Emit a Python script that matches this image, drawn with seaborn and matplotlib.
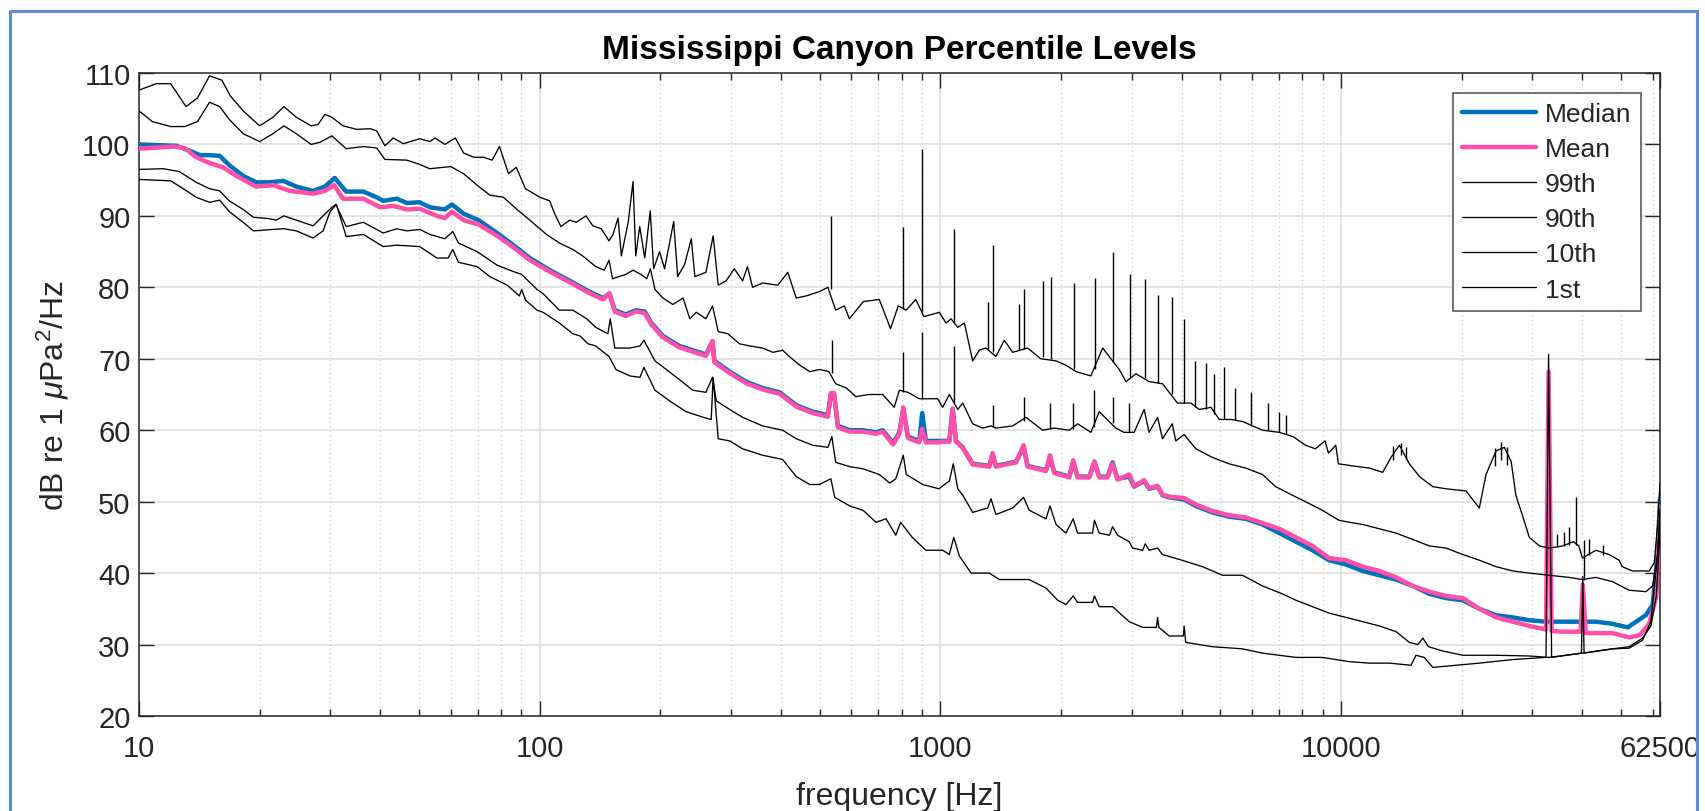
import matplotlib
matplotlib.use("Agg")
import matplotlib.pyplot as plt
from matplotlib.lines import Line2D
from matplotlib.ticker import FixedLocator, FixedFormatter, NullFormatter
import seaborn as sns

# ---- Percentile spectra (frequency in Hz, level in dB re 1 uPa^2/Hz) ----
median_f = [10, 12.4, 13.4, 14.2, 15.0, 15.9, 16.8, 18.2, 19.6, 21.2, 22.9, 24.7, 27.2, 29.1, 30.8,
            32.9, 36.3, 39.2, 40.7, 44.0, 46.6, 50.2, 53.2, 58.0, 60.4, 64.6, 70.4, 78.3, 86.0, 94.5,
            106, 119, 133, 144, 149.3, 154, 164, 174, 183, 190, 203, 223, 241, 260, 270, 273, 298,
            327, 360, 397, 437, 480, 524, 533, 543, 555, 594, 641, 691, 718, 762, 790, 808, 830, 886,
            901, 920, 992, 1013, 1053, 1073, 1094, 1137, 1204, 1325, 1350, 1376, 1545, 1613, 1651,
            1835, 1877, 1924, 2097, 2145, 2200, 2354, 2424, 2491, 2613, 2690, 2768, 2960, 3045, 3225,
            3319, 3484, 3584, 3725, 4058, 4340, 4771, 5250, 5782, 6366, 7015, 7714, 8486, 9334,
            10290, 11326, 12465, 13718, 15096, 16614, 18283, 20120, 22140, 24370, 26810, 29510,
            32470, 35710, 40030, 43250, 47580, 51930, 54490, 57620, 59920, 61650, 62500]
median_db = [100.0, 99.8, 99.1, 98.5, 98.5, 98.4, 97.1, 95.6, 94.7, 94.7, 94.9, 94.1, 93.5, 94.1, 95.3,
             93.4, 93.4, 92.6, 92.1, 92.4, 91.8, 91.9, 91.2, 90.9, 91.6, 90.3, 89.4, 87.6, 85.9, 84.1,
             82.4, 80.9, 79.4, 78.5, 79.1, 76.8, 76.2, 76.8, 76.6, 75.0, 73.2, 71.8, 71.2, 70.6, 72.4,
             69.7, 68.2, 66.8, 65.9, 65.3, 63.5, 62.6, 62.1, 65.0, 65.0, 60.6, 60.0, 60.0, 59.7, 60.0,
             58.2, 59.7, 62.9, 59.1, 58.5, 62.4, 58.5, 58.5, 58.5, 58.5, 63.0, 58.5, 57.6, 55.3, 55.0,
             56.6, 55.0, 55.6, 57.6, 55.0, 54.4, 56.2, 54.1, 53.5, 55.5, 53.5, 53.5, 55.6, 53.5, 53.5,
             55.5, 53.2, 53.5, 52.1, 52.9, 51.8, 52.1, 50.9, 50.6, 50.3, 49.4, 48.5, 47.9, 47.6, 46.8,
             45.6, 44.4, 43.2, 41.8, 41.2, 40.3, 39.7, 39.1, 38.2, 37.1, 36.5, 36.2, 35.0, 34.1, 33.8,
             33.4, 33.2, 33.2, 33.2, 33.2, 32.9, 32.4, 33.2, 34.1, 35.6, 42.6, 50.3]

mean_f = [10, 12.2, 13.0, 13.9, 15.0, 16.2, 17.5, 19.6, 21.6, 23.8, 27.2, 29.1, 30.7, 32.3, 36.3,
          40.0, 43.1, 46.6, 50.2, 55.4, 58.0, 60.4, 64.6, 70.4, 78.3, 86.0, 94.5, 106, 119, 133,
          144, 149.3, 154, 164, 174, 183, 190, 203, 223, 241, 260, 270, 273, 298, 327, 360, 397,
          437, 480, 524, 533, 543, 555, 594, 641, 691, 718, 762, 790, 808, 830, 886, 901, 920, 992,
          1013, 1053, 1073, 1094, 1137, 1204, 1325, 1350, 1376, 1545, 1613, 1651, 1835, 1877, 1924,
          2097, 2145, 2200, 2354, 2424, 2491, 2613, 2690, 2768, 2960, 3045, 3225, 3319, 3484, 3584,
          3725, 4058, 4340, 4771, 5250, 5782, 6366, 7015, 7714, 8486, 9334, 10290, 11326, 12465,
          13718, 15096, 16614, 18283, 20120, 22140, 24370, 26810, 29510, 32470, 32950, 33530,
          35710, 39600, 40100, 40800, 47580, 52360, 55590, 58740, 61200, 62500]
mean_db = [99.4, 99.7, 99.5, 98.2, 97.4, 96.8, 95.6, 94.1, 94.3, 93.5, 93.1, 93.5, 94.3, 92.4, 92.4,
           91.2, 91.4, 90.9, 91.0, 90.0, 89.7, 90.6, 89.4, 88.8, 87.2, 85.6, 83.8, 82.2, 80.7, 79.2,
           78.3, 79.2, 76.6, 76.0, 76.6, 76.4, 74.8, 73.0, 71.6, 71.0, 70.4, 72.5, 69.5, 68.0, 66.6,
           65.7, 65.1, 63.3, 62.4, 61.9, 65.2, 65.2, 60.4, 59.8, 59.8, 59.5, 59.8, 58.0, 59.5, 63.2,
           58.9, 58.3, 60.2, 58.3, 58.3, 58.4, 58.4, 63.0, 58.4, 57.5, 55.2, 54.9, 56.8, 54.9, 55.5,
           57.9, 54.9, 54.3, 56.5, 54.0, 53.4, 55.8, 53.4, 53.4, 55.6, 53.4, 53.4, 55.3, 53.1, 53.8,
           52.2, 53.0, 51.9, 52.2, 51.0, 50.7, 50.5, 49.6, 48.7, 48.1, 47.8, 47.0, 46.2, 45.0, 43.8,
           42.1, 41.8, 40.9, 40.3, 39.4, 38.2, 37.4, 36.8, 36.5, 35.0, 33.8, 33.2, 32.6, 32.1, 68.2,
           31.9, 31.8, 31.8, 38.4, 31.6, 31.6, 31.0, 31.3, 32.9, 36.8, 49.4]

p99_f = [10, 11.05, 12.0, 13.1, 14.0, 15.0, 16.1, 16.9, 18.2, 20.0, 21.6, 23.0, 24.7, 26.9, 28.0,
         29.1, 30.3, 32.3, 35.0, 37.8, 39.2, 41.1, 43.1, 45.7, 50.2, 53.2, 54.8, 58.0, 61.6, 64.6,
         68.5, 72.5, 76.1, 79.4, 83.6, 87.4, 92.2, 100.2, 105.9, 109, 113, 118.8, 123.4, 130.5,
         135.8, 142.5, 148.9, 152.4, 156.9, 159.9, 166.3, 171.0, 173.7, 177.7, 182.9, 188.8, 192.5,
         199.2, 205, 216, 221, 230, 239, 244, 260, 271, 279, 292, 306, 321, 330, 340, 360, 393,
         416, 437, 463, 499, 524, 548, 576, 593, 642, 704, 751, 785, 822, 868, 910, 994, 1033, 1063,
         1105, 1148, 1204, 1251, 1300, 1376, 1444, 1515, 1651, 1780, 1944, 2058, 2180, 2375, 2541,
         2795, 2906, 3077, 3319, 3584, 3906, 4219, 4425, 4735, 4969, 5319, 5691, 6366, 7015, 7592,
         8149, 8624, 9122, 9300, 9698, 9850, 10692, 11768, 12703, 13324, 13980, 14804, 15696, 16940,
         18269, 20502, 22128, 23000, 24360, 25566, 26580, 27300, 28380, 29500, 31270, 33100, 35710,
         38000, 39200, 40030, 43250, 46630, 49400, 50300, 53330, 58740, 60500, 61650, 62500]
p99_db = [107.6, 108.5, 108.5, 105.3, 106.5, 109.6, 109.0, 106.8, 104.7, 102.6, 103.8, 105.3, 103.8,
          102.6, 102.8, 104.2, 103.8, 102.6, 102.1, 102.2, 101.9, 99.8, 100.9, 100.1, 100.8, 100.4,
          100.9, 100.0, 100.9, 98.8, 98.2, 98.2, 97.8, 99.7, 95.9, 96.8, 93.8, 92.6, 92.1, 90.3,
          88.5, 89.4, 89.1, 90.0, 88.6, 88.2, 86.5, 87.4, 89.7, 84.4, 89.1, 94.8, 84.4, 88.5, 84.1,
          90.7, 82.6, 85.0, 82.6, 89.2, 81.5, 83.2, 86.8, 81.5, 82.1, 87.2, 80.3, 80.9, 82.6, 80.9,
          82.9, 80.0, 80.6, 80.3, 82.1, 78.5, 78.8, 79.4, 80.0, 76.8, 77.4, 75.6, 78.0, 78.3, 74.2,
          77.4, 76.8, 78.3, 75.9, 76.5, 75.0, 75.6, 74.4, 75.0, 69.7, 71.2, 71.5, 70.3, 72.6, 70.9,
          71.5, 70.0, 69.7, 69.1, 68.2, 67.6, 71.5, 68.5, 66.8, 67.9, 66.8, 66.5, 63.8, 63.8, 62.9,
          63.2, 61.5, 61.5, 61.2, 60.0, 59.7, 59.1, 57.9, 57.4, 58.5, 56.8, 57.9, 55.3, 55.0, 54.7,
          54.1, 56.2, 57.9, 55.3, 53.5, 52.1, 51.8, 51.5, 49.1, 53.8, 57.1, 57.6, 55.6, 50.9, 48.0,
          45.0, 43.8, 43.5, 43.8, 44.4, 43.8, 42.1, 43.2, 42.6, 41.8, 40.9, 40.3, 40.3, 41.5, 46.8,
          52.6]
# narrow tonal peaks on the 99th curve: frequency, foot level, peak level
p99_spike_f = [533, 808, 901, 1084, 1312, 1350, 1575, 1620, 1799, 1888, 2159, 2431, 2703, 2979,
               3246, 3502, 3781, 4058, 4319, 4599, 4827, 5115, 5422, 5975, 6563, 7015, 7300,
               13500, 14100, 14500, 24200, 25000, 25900, 34500, 36000, 37000, 38590, 41500,
               45000]
p99_spike_base = [79.8, 77.0, 76.5, 75.2, 71.4, 71.0, 71.2, 71.3, 70.2, 69.9, 68.6, 68.5, 69.5,
                  67.3, 67.3, 66.6, 65.0, 63.8, 63.3, 63.0, 62.3, 61.5, 61.4, 60.6, 60.0, 59.7,
                  59.5, 55.8, 56.5, 56.0, 55.0, 55.8, 55.2, 43.6, 43.8, 44.0, 43.9, 42.5, 42.6]
p99_spike_peak = [90.0, 88.5, 99.4, 88.2, 78.0, 85.9, 77.7, 79.7, 80.9, 81.5, 80.6, 81.3, 84.9,
                  81.8, 81.2, 78.9, 78.6, 75.6, 69.7, 69.4, 67.9, 68.8, 65.9, 65.3, 63.8, 62.6,
                  62.1, 57.8, 58.2, 57.6, 57.5, 58.3, 57.6, 45.5, 45.8, 46.5, 50.6, 44.8, 44.0]

p90_f = [10, 10.8, 12.0, 13.0, 14.0, 15.0, 15.9, 16.8, 18.2, 20.0, 21.6, 23.0, 24.7, 26.9, 28.3,
         30.3, 32.9, 36.3, 39.2, 41.1, 46.6, 50.2, 53.2, 60.0, 64.6, 69.8, 75.1, 81.2, 87.8, 94.5,
         104, 112, 121, 128, 138, 145, 149, 152, 164, 171, 179, 185, 189, 194, 203, 215, 228, 237,
         246, 260, 270, 279, 295, 315, 334, 360, 382, 404, 420, 446, 472, 499, 527, 548, 583,
         615, 664, 718, 767, 790, 830, 886, 910, 985, 1013, 1053, 1105, 1137, 1204,
         1275, 1338, 1376, 1515, 1636, 1799, 1924, 2097, 2200, 2375, 2491, 2740, 2873, 3045, 3225,
         3319, 3484, 3584, 3791, 3868, 4058, 4340, 4771, 5250, 5782, 6366, 6866, 7560, 8149, 8972,
         9870, 10290, 11326, 12465, 13718, 15096, 16614, 18283, 20120, 22140, 24370, 26810, 29510,
         33060, 37040, 40030, 43250, 47580, 52360, 57620, 59920, 61650, 62500]
p90_db = [104.7, 103.2, 102.5, 102.5, 103.2, 105.9, 105.3, 103.5, 101.5, 100.4, 101.5, 102.6, 101.5,
          100.0, 100.3, 101.2, 99.4, 99.7, 99.5, 97.9, 97.8, 97.2, 96.6, 96.9, 95.9, 94.3, 92.9, 92.6,
          90.9, 89.4, 87.4, 86.2, 85.3, 84.4, 82.9, 82.4, 83.8, 81.2, 81.8, 82.4, 81.8, 81.2, 82.6,
          79.7, 78.5, 77.6, 78.5, 75.6, 76.5, 75.6, 77.4, 73.8, 73.5, 72.1, 71.8, 71.5, 70.9, 71.2,
          70.3, 69.1, 68.2, 68.5, 68.2, 66.5, 65.9, 64.7, 65.0, 65.0, 63.2, 65.6, 65.3, 64.4, 64.4,
          64.4, 63.2, 65.0, 62.9, 63.8, 60.9, 60.3, 60.6, 60.3, 60.6, 61.8, 60.0, 60.3, 60.0, 60.9,
          59.7, 62.6, 60.3, 59.7, 59.7, 62.9, 59.7, 61.8, 58.8, 60.9, 58.5, 59.4, 57.4, 56.2, 55.3,
          54.7, 53.8, 52.1, 50.9, 50.0, 48.8, 47.4, 47.2, 46.8, 46.2, 45.6, 44.7, 43.8, 43.5, 42.6,
          41.8, 40.9, 40.3, 40.0, 39.7, 39.4, 39.1, 39.4, 38.8, 37.6, 37.4, 38.2, 42.6, 48.5]
p90_spike_f = [537, 809, 901, 1084, 1350, 1613, 1877, 2145, 2424, 2690, 2960, 40300]
p90_spike_base = [68.0, 65.4, 64.4, 64.0, 60.5, 61.3, 60.2, 60.2, 60.5, 61.0, 59.7, 39.1]
p90_spike_peak = [72.6, 70.9, 73.8, 71.8, 63.5, 64.7, 63.8, 63.8, 65.6, 64.7, 63.8, 44.6]

p10_f = [10, 11.5, 12.6, 13.9, 15.0, 15.9, 16.8, 18.2, 19.3, 21.2, 22.0, 23.0, 24.7, 27.2, 28.8,
         30.3, 31.0, 32.9, 36.3, 40.7, 44.0, 46.6, 50.2, 53.2, 58.0, 60.7, 62.7, 69.8, 78.3, 86.0,
         90.2, 98.5, 102, 112, 121, 131, 138, 148, 150, 154, 168, 178, 182, 194, 207, 223, 241, 260,
         270, 276, 298, 321, 360, 404, 437, 480, 524, 536, 548, 594, 641, 704, 748, 774, 808, 822,
         904, 992, 1053, 1077, 1105, 1137, 1204, 1312, 1338, 1376, 1515, 1613, 1666, 1835, 1877,
         1944, 2058, 2145, 2200, 2397, 2424, 2491, 2643, 2690, 2768, 2960, 3017, 3199, 3246, 3319,
         3484, 3584, 4009, 4509, 5060, 5670, 6366, 7132, 7714, 8486, 9334, 10290, 11326, 12465,
         13718, 14804, 15560, 16000, 16520, 17940, 20120, 24370, 29510, 32950, 40030, 47580, 52360,
         56540, 59310, 61650, 62500]
p10_db = [96.5, 96.6, 96.2, 94.7, 93.8, 93.5, 92.1, 90.9, 89.8, 89.6, 89.4, 90.0, 89.4, 88.6, 90.0,
          91.2, 91.6, 88.5, 89.1, 87.6, 88.2, 87.9, 88.1, 87.4, 86.8, 87.8, 86.2, 85.0, 83.1, 82.2,
          81.8, 79.7, 79.1, 76.8, 76.8, 75.6, 74.4, 73.5, 75.6, 71.5, 71.5, 71.8, 72.6, 69.7, 68.5,
          67.1, 65.6, 65.3, 67.4, 64.1, 62.9, 61.8, 60.6, 60.0, 58.8, 57.9, 57.6, 59.1, 55.5, 54.9,
          54.6, 53.8, 52.6, 53.2, 56.5, 53.8, 52.4, 51.8, 52.9, 55.3, 51.8, 50.9, 48.5, 49.1, 50.4,
          48.2, 49.1, 50.6, 48.8, 47.6, 49.4, 46.8, 45.6, 47.6, 45.6, 45.6, 47.4, 45.6, 45.3, 46.5,
          45.3, 44.4, 43.5, 43.2, 44.1, 43.2, 43.5, 42.6, 41.8, 40.9, 39.7, 39.7, 38.2, 37.1, 36.2,
          35.3, 34.4, 33.8, 33.2, 32.6, 31.8, 30.3, 30.0, 30.9, 29.7, 29.1, 28.5, 28.5, 28.4, 28.2,
          28.8, 29.4, 29.5, 30.6, 33.2, 42.6, 49.0]

p1_f = [10, 12.0, 12.9, 13.9, 15.0, 15.9, 16.8, 18.2, 19.3, 21.6, 23.0, 24.7, 27.2, 28.8, 30.0,
        31.1, 32.9, 36.3, 40.7, 44.0, 50.2, 55.4, 59.1, 60.7, 62.7, 69.8, 75.1, 83.0, 89.0, 90.2,
        92.2, 98.5, 102, 112, 121, 126, 132, 138, 149, 151, 155, 168, 178, 182, 194, 211, 232, 256,
        268, 271, 279, 298, 321, 360, 404, 437, 472, 499, 524, 533, 545, 594, 641, 691, 732, 774,
        796, 851, 920, 1013, 1053, 1080, 1115, 1193, 1325, 1403, 1545, 1666, 1835, 1962, 2058,
        2145, 2200, 2397, 2424, 2491, 2690, 2960, 3199, 3460, 3484, 3510, 3725, 4040, 4058, 4095,
        4771, 5670, 6366, 7714, 8972, 10490, 11770, 13200, 14950, 15380, 16130, 16940, 19360,
        22140, 26810, 32470, 32950, 33530, 39800, 40100, 40400, 47580, 52360, 56540, 59310, 61200,
        62500]
p1_db = [95.1, 94.9, 93.8, 92.6, 91.9, 92.2, 90.6, 89.1, 87.9, 88.1, 88.2, 87.9, 86.9, 87.9, 90.6,
         91.6, 87.1, 87.4, 85.7, 85.9, 85.7, 84.1, 84.1, 85.3, 83.5, 82.9, 81.5, 80.3, 78.8, 79.7,
         78.2, 76.8, 76.5, 75.0, 73.5, 73.2, 72.1, 71.8, 70.3, 69.7, 68.5, 67.6, 67.4, 68.8, 65.6,
         64.1, 62.6, 61.8, 61.5, 67.4, 58.8, 58.5, 57.4, 56.5, 55.9, 53.5, 52.4, 52.4, 53.0, 53.2,
         50.6, 49.4, 48.8, 47.1, 47.6, 45.3, 47.1, 45.0, 43.2, 43.2, 42.6, 45.0, 42.4, 40.0, 40.0,
         39.1, 39.1, 39.1, 37.9, 36.2, 35.6, 36.8, 35.9, 35.9, 36.8, 35.3, 35.3, 33.2, 32.4, 32.4,
         33.8, 32.4, 31.2, 31.2, 32.6, 30.3, 29.7, 29.4, 28.8, 28.2, 28.2, 27.6, 27.4, 27.4, 27.1,
         28.5, 28.2, 26.8, 27.1, 27.4, 27.9, 28.2, 70.6, 28.2, 28.8, 39.5, 28.8, 29.4, 29.7, 30.9,
         32.6, 36.8, 45.6]

series_names = ["Median", "Mean", "99th", "90th", "10th", "1st"]
x_tick_values = [10, 100, 1000, 10000, 62500]
x_tick_labels = ["10", "100", "1000", "10000", "62500"]
y_tick_values = [20, 30, 40, 50, 60, 70, 80, 90, 100, 110]

sns.set_style("ticks")
plt.rcParams["font.family"] = ["Liberation Sans", "DejaVu Sans"]
plt.rcParams["mathtext.fontset"] = "custom"
plt.rcParams["mathtext.rm"] = "Liberation Sans"
plt.rcParams["mathtext.it"] = "Liberation Sans:italic"

INK = "#262626"
fig = plt.figure(figsize=(17.05, 8.12), dpi=100)
ax = fig.add_axes([0.0815, 0.1170, 0.8921, 0.7919])

styles = [
    (median_f, median_db, "#0072BD", 3.2),
    (mean_f, mean_db, "#FF4FA9", 3.2),
    (p99_f, p99_db, "black", 0.95),
    (p90_f, p90_db, "black", 0.95),
    (p10_f, p10_db, "black", 0.95),
    (p1_f, p1_db, "black", 0.95),
]
handles = []
for name, (f, db, color, lw) in zip(series_names, styles):
    sns.lineplot(x=f, y=db, ax=ax, color=color, linewidth=lw, estimator=None,
                 sort=False, zorder=3)
    handles.append(Line2D([], [], color=color, linewidth=lw, label=name))

# tonal peaks drawn as thin vertical strokes rising from the curve
for sf, sb, sp in ((p99_spike_f, p99_spike_base, p99_spike_peak),
                   (p90_spike_f, p90_spike_base, p90_spike_peak)):
    ax.vlines(sf, sb, sp, colors="black", linewidth=1.0, zorder=3)

ax.set_xscale("log")
ax.set_xlim(10, 62500)
ax.set_ylim(20, 110)

ax.xaxis.set_major_locator(FixedLocator(x_tick_values))
ax.xaxis.set_major_formatter(FixedFormatter(x_tick_labels))
minor = [m * d for d in (10, 100, 1000, 10000) for m in range(2, 10)]
ax.xaxis.set_minor_locator(FixedLocator(minor))
ax.xaxis.set_minor_formatter(NullFormatter())
ax.yaxis.set_major_locator(FixedLocator(y_tick_values))

ax.grid(which="major", color="#dcdcdc", linewidth=1.1, zorder=0)
ax.grid(which="minor", axis="x", color="#c4c4c4", linewidth=0.8, linestyle=(0, (1, 3)), zorder=0)
ax.set_axisbelow(True)

ax.tick_params(which="both", direction="in", top=True, right=True, color=INK,
               labelcolor=INK, labelsize=21)
ax.tick_params(which="major", length=11, width=1.0)
ax.tick_params(which="minor", length=5, width=1.0)
ax.tick_params(axis="x", pad=13)
ax.tick_params(axis="y", pad=6)
for spn in ax.spines.values():
    spn.set_color(INK)
    spn.set_linewidth(1.1)

ax.set_title("Mississippi Canyon Percentile Levels", fontsize=24, fontweight="bold",
             color="black", pad=11)
ax.set_xlabel("frequency [Hz]", fontsize=23, color=INK, labelpad=14)
ax.set_ylabel("dB re 1 $\\mu$Pa$^2$/Hz", fontsize=23, color=INK, labelpad=8)

leg = ax.legend(handles=handles, loc="upper right", bbox_to_anchor=(0.9875, 0.969),
                borderaxespad=0, fontsize=19, frameon=True, fancybox=False,
                handlelength=2.8, handletextpad=0.35, labelspacing=0.42,
                borderpad=0.35)
leg.get_frame().set_edgecolor("#5a5a5a")
leg.get_frame().set_linewidth(1.2)
leg.get_frame().set_facecolor("white")
leg.get_frame().set_alpha(1)

# window frame (left, top and right edges)
W, H = 1705, 812
frame_kw = dict(color="#5B8DD3", linewidth=2.2, transform=fig.transFigure)
xl, xr, yt = 9.5 / W, 1697 / W, 1 - 11.5 / H
fig.add_artist(Line2D([xl, xl], [0, yt], **frame_kw))
fig.add_artist(Line2D([xl, xr], [yt, yt], **frame_kw))
fig.add_artist(Line2D([xr, xr], [yt, 0], **frame_kw))

fig.savefig("out.png", dpi=100, facecolor="white")
